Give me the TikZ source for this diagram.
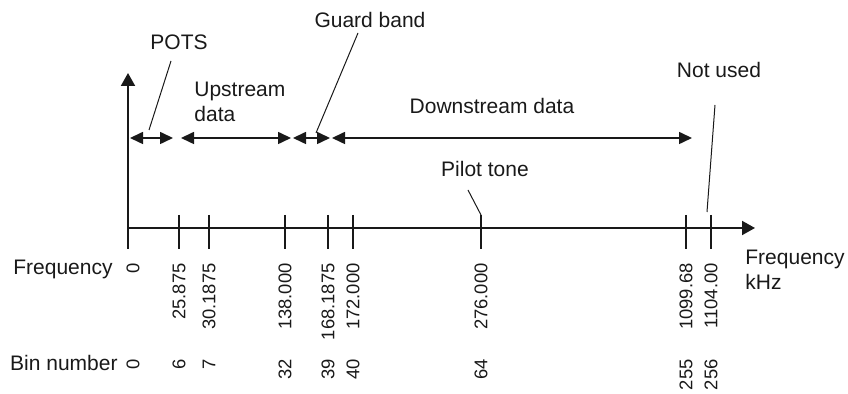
\documentclass[tikz,border=0pt]{standalone}
\usepackage{fontspec}
\setmainfont{Liberation Sans}
\usetikzlibrary{arrows.meta}
\begin{document}
\begin{tikzpicture}[
    x=0.5pt, y=-0.5pt,
    lbl/.style={inner sep=0pt, font=\fontsize{10.5}{12.5}\selectfont, text=black!90},
    num/.style={lbl, font=\fontsize{9.2}{11}\selectfont, rotate=90, anchor=east},
    axis/.style={line width=1pt, draw=black!90, -{Triangle[length=6.5pt,width=7pt]}},
    band/.style={line width=0.8pt, draw=black!90, {Triangle[length=6.5pt,width=6pt]}-{Triangle[length=6.5pt,width=6pt]}},
    tick/.style={line width=0.6pt, draw=black!90},
    leader/.style={line width=0.5pt, draw=black!90},
]
\useasboundingbox (0,0) rectangle (848,394);

% Achsen
\coordinate (origin) at (128,228);
\coordinate (ytop) at (128,73);
\coordinate (xend) at (755,228);
\draw[axis] (128,249) -- (ytop);
\draw[axis] (origin) -- (xend);

% Bänder
\coordinate (potsL) at (130,138);
\coordinate (potsR) at (173,138);
\coordinate (upL) at (181,138);
\coordinate (upR) at (291,138);
\coordinate (guardL) at (293,138);
\coordinate (guardR) at (330,138);
\coordinate (downL) at (332,138);
\coordinate (downR) at (692,138);
\draw[band] (potsL) -- (potsR);
\draw[band] (upL) -- (upR);
\draw[band] (guardL) -- (guardR);
\draw[band] (downL) -- (downR);

% Beschriftungen oben
\node[lbl] (pots) at (179,42) {POTS};
\node[lbl] (guard) at (370,20) {Guard band};
\node[lbl, align=left, anchor=west] (up) at (194,102) {Upstream\\data};
\node[lbl] (down) at (492,106) {Downstream data};
\node[lbl] (pilot) at (485,169) {Pilot tone};
\node[lbl] (unused) at (719,70) {Not used};

% Hinweislinien
\coordinate (potsA) at (171,61);
\coordinate (potsB) at (149,130);
\coordinate (guardA) at (358,33);
\coordinate (guardB) at (316,133);
\coordinate (pilotA) at (468,190);
\coordinate (pilotB) at (481,215);
\coordinate (unusedA) at (715,105);
\coordinate (unusedB) at (707,212);
\draw[leader] (potsA) -- (potsB);
\draw[leader] (guardA) -- (guardB);
\draw[leader] (pilotA) -- (pilotB);
\draw[leader] (unusedA) -- (unusedB);

% Teilstriche
\draw[tick] (179,215) -- (179,249);
\draw[tick] (209,215) -- (209,249);
\draw[tick] (285,215) -- (285,249);
\draw[tick] (328,215) -- (328,249);
\draw[tick] (353,215) -- (353,249);
\draw[tick] (481,215) -- (481,249);
\draw[tick] (686,215) -- (686,249);
\draw[tick] (711,215) -- (711,249);

% Frequenzen
\node[lbl, anchor=east] (freq) at (113,269) {Frequency};
\node[num] (f0) at (133,263) {0};
\node[num] (f1) at (179,263) {25.875};
\node[num] (f2) at (209,263) {30.1875};
\node[num] (f3) at (285,263) {138.000};
\node[num] (f4) at (328,263) {168.1875};
\node[num] (f5) at (353,263) {172.000};
\node[num] (f6) at (481,263) {276.000};
\node[num] (f7) at (686,263) {1099.68};
\node[num] (f8) at (711,263) {1104.00};
\node[lbl, align=left, anchor=west] (fkhz) at (745,270) {Frequency\\kHz};

% Bin-Nummern
\node[lbl, anchor=east] (bin) at (118,363) {Bin number};
\node[num] (b0) at (133,359) {0};
\node[num] (b1) at (179,359) {6};
\node[num] (b2) at (209,359) {7};
\node[num] (b3) at (285,359) {32};
\node[num] (b4) at (328,359) {39};
\node[num] (b5) at (353,359) {40};
\node[num] (b6) at (481,359) {64};
\node[num] (b7) at (686,359) {255};
\node[num] (b8) at (711,359) {256};
\end{tikzpicture}
\end{document}
